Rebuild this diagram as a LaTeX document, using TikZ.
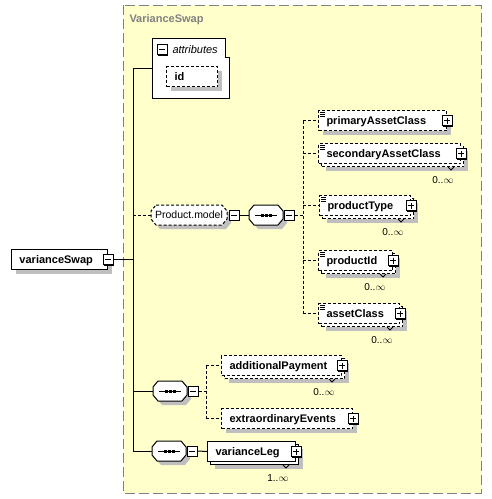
\documentclass[tikz,border=0pt]{standalone}
\usepackage{fontspec}
\setmainfont{Liberation Sans}
\usetikzlibrary{shadows}

\definecolor{panel}{RGB}{255,255,204}
\definecolor{framegray}{RGB}{128,128,128}

\tikzset{
    box/.style={draw, fill=white, anchor=north west, minimum height=20pt,
        inner xsep=8pt, inner ysep=0pt, text height=9pt, text depth=1pt,
        align=left, text width=#1, font=\fontsize{11}{13}\selectfont\bfseries},
    opt/.style={dash pattern=on 3pt off 2pt},
    shade/.style={drop shadow={shadow xshift=4pt, shadow yshift=-4pt, fill=black!25, opacity=1}},
    pmbox/.style={draw, fill=white, minimum size=10pt, inner sep=0pt,
        drop shadow={shadow xshift=1pt, shadow yshift=-1pt, fill=black, opacity=1}},
    minusbox/.style={pmbox, path picture={
        \draw ([xshift=2pt]path picture bounding box.west) -- ([xshift=-2pt]path picture bounding box.east);}},
    plusbox/.style={pmbox, path picture={
        \draw ([xshift=2pt]path picture bounding box.west) -- ([xshift=-2pt]path picture bounding box.east);
        \draw ([yshift=-2pt]path picture bounding box.north) -- ([yshift=2pt]path picture bounding box.south);}},
    seqbox/.style={minimum width=34pt, minimum height=20pt, inner sep=0pt, outer sep=0pt, anchor=west},
    mult/.style={inner sep=0pt, anchor=north east, font=\fontsize{10}{12}\selectfont},
}

\begin{document}
\begin{tikzpicture}[x=1pt, y=-1pt, line width=1pt]
    \path[use as bounding box, fill=white] (0,0) rectangle (492,499);
    % complex type frame
    \draw[framegray, dash pattern=on 10pt off 4pt, fill=panel] (123,5) rectangle (481,493);
    \node[anchor=base west, inner sep=0pt, text=framegray, font=\fontsize{11}{13}\selectfont\bfseries]
        (ttl) at (129,22) {VarianceSwap};

    \coordinate (trunk) at (133,0);
    \coordinate (brA) at (303,0);
    \coordinate (brB) at (206,0);

    % root element
    \node[box=80pt, shade] (vs) at (11,249) {varianceSwap};

    % attributes
    \node[anchor=north west, minimum width=76pt, minimum height=59pt, inner sep=0pt] (attr) at (152,38) {};
    \draw[fill=white] (attr.north west) -- ([xshift=-4pt]attr.north east)
        -- ([xshift=-4pt,yshift=-19pt]attr.north east) -- ([yshift=-19pt]attr.north east)
        -- (attr.south east) -- (attr.south west) -- cycle;
    \node[minusbox] (attrm) at (162,49.5) {};
    \node[anchor=base west, inner sep=0pt, font=\fontsize{11}{13}\selectfont\itshape] (attrt) at (172,53) {attributes};
    \node[box=35pt, opt, shade] (id) at (166,66) {id};

    % group and sequences
    \node[seqbox, minimum width=76pt] (pm) at (151,215) {};
    \node[seqbox] (seqa) at (249,215) {};
    \node[seqbox] (seqb) at (153,391) {};
    \node[seqbox] (seqc) at (152,451) {};
    \foreach \s/\st in {pm/opt,seqa/solid,seqb/solid,seqc/solid}
        \draw[\st, fill=white, shade] ([xshift=5pt]\s.north west) -- ([xshift=-5pt]\s.north east)
            -- ([yshift=-6pt]\s.north east) -- ([yshift=6pt]\s.south east)
            -- ([xshift=-5pt]\s.south east) -- ([xshift=5pt]\s.south west)
            -- ([yshift=6pt]\s.south west) -- ([yshift=-6pt]\s.north west) -- cycle;
    \node[font=\fontsize{10.5}{12}\selectfont, inner sep=0pt] (pmt) at (pm.center) {Product.model};

    % children of the first sequence
    \node[box=112pt, opt, shade] (pac) at (318,110) {primaryAssetClass};
    \node[box=126pt, opt, shade] (sacb) at (321,146) {};
    \node[box=126pt, opt] (sac) at (318,143) {secondaryAssetClass};
    \node[box=75pt, opt, shade] (ptypeb) at (322,198) {};
    \node[box=75pt, opt] (ptype) at (319,195) {productType};
    \node[box=58pt, opt, shade] (pidb) at (321,253) {};
    \node[box=58pt, opt] (pid) at (318,250) {productId};
    \node[box=65pt, opt, shade] (acb) at (321,306) {};
    \node[box=65pt, opt] (ac) at (318,303) {assetClass};

    % children of the other sequences
    \node[box=104pt, opt, shade] (apb) at (224,358) {};
    \node[box=104pt, opt] (ap) at (221,355) {additionalPayment};
    \node[box=115pt, opt, shade] (ee) at (221,408) {extraordinaryEvents};
    \node[box=72pt, shade] (vlegb) at (210,444) {};
    \node[box=72pt] (vleg) at (207,441) {varianceLeg};

    % +/- boxes
    \node[minusbox] (vsm) at (vs.east) {};
    \node[minusbox] (pmm) at ([xshift=7pt]pm.east) {};
    \node[minusbox] (seqam) at ([xshift=6pt]seqa.east) {};
    \node[minusbox] (seqbm) at ([xshift=6pt]seqb.east) {};
    \node[minusbox] (seqcm) at ([xshift=6pt]seqc.east) {};
    \foreach \e in {pac,sac,ptype,pid,ac,ap,ee,vleg}
        \node[plusbox] (\e p) at (\e.east) {};

    % sequence marks
    \foreach \s in {seqa,seqb,seqc} {
        \draw ([xshift=-11pt]\s.center) -- ([xshift=11pt]\s.center);
        \foreach \d in {-4,0,4}
            \fill ([xshift=\d pt]\s.center) +(-1.5pt,-1.5pt) rectangle +(1.5pt,1.5pt);
    }

    % text content marks
    \foreach \e in {pac,sac,ptype,pid,ac}
        \foreach \d in {2,4,6}
            \draw[line width=0.8pt] ([xshift=2pt,yshift=-\d pt]\e.north west) -- ++(5pt,0pt);

    % occurrence marks
    \foreach \e/\n in {sacb/sacn,ptypeb/ptypen,pidb/pidn,acb/acn,apb/apn} {
        \draw[line width=0.8pt] ([xshift=-16pt]\e.south east) -- ++(3pt,-3pt) -- ++(3pt,3pt);
        \node[mult] (\n) at ([xshift=-10pt,yshift=-9pt]\e.south east) {0..$\infty$};
    }
    \draw[line width=0.8pt] ([xshift=-16pt]vlegb.south east) -- ++(3pt,-3pt) -- ++(3pt,3pt);
    \node[mult] (vlegn) at ([xshift=-10pt,yshift=-9pt]vlegb.south east) {1..$\infty$};

    % connectors
    \draw (vsm.east) -- (trunk |- vsm.east);
    \draw (trunk |- attr.west) -- (trunk |- seqc.west);
    \draw (trunk |- attr.west) -- (attr.west);
    \draw[opt] (trunk |- pm.west) -- (pm.west);
    \draw (pmm.east) -- (seqa.west);
    \draw[opt] (seqam.east) -- (brA |- seqam.east);
    \draw[opt] (brA |- pac.west) -- (brA |- ac.west);
    \foreach \e in {pac,sac,ptype,pid,ac}
        \draw[opt] (brA |- \e.west) -- (\e.west);
    \draw (trunk |- seqb.west) -- (seqb.west);
    \draw[opt] (seqbm.east) -- (brB |- seqbm.east);
    \draw[opt] (brB |- ap.west) -- (brB |- ee.west);
    \draw[opt] (brB |- ap.west) -- (ap.west);
    \draw[opt] (brB |- ee.west) -- (ee.west);
    \draw (trunk |- seqc.west) -- (seqc.west);
    \draw (seqcm.east) -- (vleg.west);
\end{tikzpicture}
\end{document}
